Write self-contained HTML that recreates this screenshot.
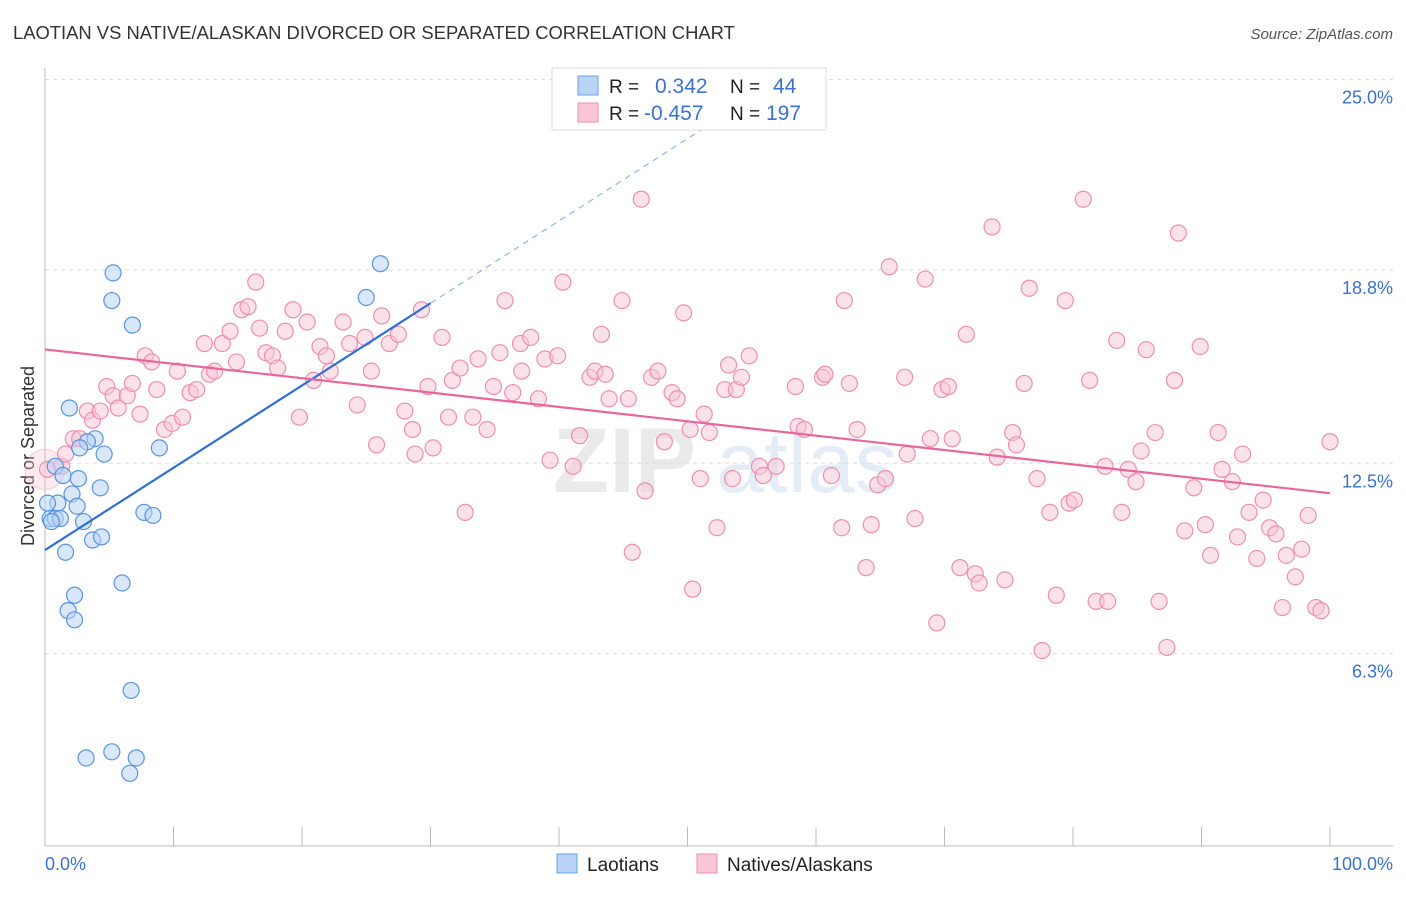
<!DOCTYPE html>
<html><head><meta charset="utf-8">
<style>
body{margin:0;background:#fff;font-family:"Liberation Sans",sans-serif;}
svg text{font-family:"Liberation Sans",sans-serif;}
</style></head>
<body>
<svg id="chart" width="1406" height="892" xmlns="http://www.w3.org/2000/svg">
<text x="13" y="39" font-size="18.4" fill="#333">LAOTIAN VS NATIVE/ALASKAN DIVORCED OR SEPARATED CORRELATION CHART</text>
<text x="1393" y="39" font-size="15" fill="#555" font-style="italic" text-anchor="end">Source: ZipAtlas.com</text>
<g opacity="0.3">
<text x="553" y="492" font-size="92" font-family="Liberation Serif" fill="#bbb" font-weight="bold">ZIP</text>
<text x="716" y="492" font-size="86" fill="#a9c4e6">atlas</text>
</g>
<g id="grid"></g>
<g id="axes"></g>
<g id="marks"></g>
<g id="trends"></g>
<g>
<rect x="552" y="68" width="274" height="62" fill="#fff" stroke="#ddd"/>
<rect x="578" y="76" width="20" height="19" fill="#b8d3f5" stroke="#6fa0e0"/>
<rect x="578" y="103" width="20" height="19" fill="#f8c6d5" stroke="#ec8fae"/>
<text x="609" y="93" font-size="19" fill="#222">R =</text>
<text x="655" y="93" font-size="21" fill="#3a72d0">0.342</text>
<text x="730" y="93" font-size="19" fill="#222">N =</text>
<text x="773" y="93" font-size="21" fill="#3a72d0">44</text>
<text x="609" y="120" font-size="19" fill="#222">R =</text>
<text x="644" y="120" font-size="21" fill="#3a72d0">-0.457</text>
<text x="730" y="120" font-size="19" fill="#222">N =</text>
<text x="766" y="120" font-size="21" fill="#3a72d0">197</text>
</g>
<g>
<rect x="557" y="854" width="20" height="19" fill="#b8d3f5" stroke="#6fa0e0"/>
<text x="587" y="871" font-size="19" fill="#222">Laotians</text>
<rect x="697" y="854" width="20" height="19" fill="#f8c6d5" stroke="#ec8fae"/>
<text x="727" y="871" font-size="19" fill="#222">Natives/Alaskans</text>
</g>
</svg>
<script>
const blueX=[5.3,5.2,6.8,26.1,25.0,1.9,3.9,3.3,2.7,4.6,8.9,0.8,1.4,2.6,4.3,2.1,1.0,2.5,0.2,0.4,0.8,1.2,0.5,3.0,7.7,8.4,3.7,4.4,1.6,6.0,2.3,1.8,2.3,6.7,5.2,7.1,3.2,6.6];
const blueY=[18.7,17.8,17.0,19.0,17.9,14.3,13.3,13.2,13.0,12.8,13.0,12.4,12.1,12.0,11.7,11.5,11.2,11.1,11.2,10.7,10.7,10.7,10.6,10.6,10.9,10.8,10.0,10.1,9.6,8.6,8.2,7.7,7.4,5.1,3.1,2.9,2.9,2.4];
const pinkX=[0.2,1.3,1.6,2.2,2.7,3.3,3.7,4.3,4.8,5.3,5.7,6.4,6.8,7.4,7.8,8.3,8.7,9.3,9.9,10.3,10.7,11.3,11.8,12.4,12.8,13.2,13.8,14.4,14.9,15.3,15.8,16.4,16.7,17.2,17.7,18.1,18.7,19.3,19.8,20.4,20.9,21.4,21.9,22.2,23.2,23.7,24.3,24.9,25.4,25.8,26.2,26.8,27.5,28.0,28.6,28.8,29.3,29.8,30.2,30.9,31.4,31.7,32.3,32.7,33.3,33.7,34.4,34.9,35.4,35.8,36.4,37.0,37.1,37.8,38.4,38.9,39.3,39.9,40.3,41.1,41.6,42.4,42.8,43.3,43.6,43.9,44.9,45.4,45.7,46.4,46.7,47.2,47.7,48.2,48.8,49.2,49.7,50.2,50.4,51.0,51.3,51.7,52.3,52.9,53.2,53.5,53.8,54.2,54.8,55.6,55.9,56.9,58.4,58.6,59.1,60.5,60.7,61.2,62.0,62.2,62.6,63.2,63.9,64.3,64.8,65.4,65.7,66.9,67.1,67.7,68.5,68.9,69.4,69.8,70.3,70.6,71.2,71.7,72.4,72.7,73.7,74.1,74.7,75.3,75.6,76.2,76.6,77.2,77.6,78.2,78.7,79.4,79.7,80.1,80.8,81.3,81.8,82.5,82.7,83.4,83.8,84.3,84.9,85.3,85.7,86.4,86.7,87.3,87.9,88.2,88.7,89.4,89.9,90.3,90.7,91.3,91.6,92.4,92.8,93.2,93.7,94.3,94.8,95.3,95.8,96.3,96.6,97.3,97.8,98.3,98.9,99.3,100];
const pinkY=[12.3,12.4,12.8,13.3,13.3,14.2,13.9,14.2,15.0,14.7,14.3,14.7,15.1,14.1,16.0,15.8,14.9,13.6,13.8,15.5,14.0,14.8,14.9,16.4,15.4,15.5,16.4,16.8,15.8,17.5,17.6,18.4,16.9,16.1,16.0,15.6,16.8,17.5,14.0,17.1,15.2,16.3,16.0,15.5,17.1,16.4,14.4,16.6,15.5,13.1,17.3,16.4,16.7,14.2,13.6,12.8,17.5,15.0,13.0,16.6,14.0,15.2,15.6,10.9,14.0,15.9,13.6,15.0,16.1,17.8,14.8,16.4,15.5,16.6,14.6,15.9,12.6,16.0,18.4,12.4,13.4,15.3,15.5,16.7,15.4,14.6,17.8,14.6,9.6,21.1,11.6,15.3,15.5,13.2,14.8,14.6,17.4,13.6,8.4,12.0,14.1,13.5,10.4,14.9,15.7,12.0,14.9,15.3,16.0,12.4,12.1,12.4,15.0,13.7,13.6,15.3,15.4,12.1,10.4,17.8,15.1,13.6,9.1,10.5,11.8,12.0,18.9,15.3,12.8,10.7,18.5,13.3,7.3,14.9,15.0,13.3,9.1,16.7,8.9,8.6,20.2,12.7,8.7,13.5,13.1,15.1,18.2,12.0,6.4,10.9,8.2,17.8,11.2,11.3,21.1,15.2,8.0,12.4,8.0,16.5,10.9,12.3,11.9,12.9,16.2,13.5,8.0,6.5,15.2,20.0,10.3,11.7,16.3,10.5,9.5,13.5,12.3,11.9,10.1,12.8,10.9,9.4,11.3,10.4,10.2,7.8,9.5,8.8,9.7,10.8,7.8,7.7,13.2];
const yTicks=[25.0,18.8,12.5,6.3];
const yTickLabels=["25.0%","18.8%","12.5%","6.3%"];
const xTicks=[0,10,20,30,40,50,60,70,80,90,100];

const NS="http://www.w3.org/2000/svg";
const X0=45,X1=1330,Y0=847,Y1=79.5;
const sx=v=>X0+(X1-X0)*v/100;
const sy=v=>Y0-(Y0-Y1)*v/25;
function mk(tag,attrs,parent){const e=document.createElementNS(NS,tag);for(const k in attrs)e.setAttribute(k,attrs[k]);parent.appendChild(e);return e;}
const grid=document.getElementById('grid'),axes=document.getElementById('axes'),marks=document.getElementById('marks'),trends=document.getElementById('trends');
yTicks.forEach((t,i)=>{
  const l=mk('line',{x1:45,x2:1393,y1:sy(t),y2:sy(t),stroke:'#ddd','stroke-dasharray':'4,4'},grid);
  
  
  const tx=mk('text',{x:1393,y:sy(t)+24,'font-size':18,fill:'#3a72d0','text-anchor':'end'},axes);
  tx.textContent=yTickLabels[i];
  
  
});
let a=mk('line',{x1:45,x2:45,y1:68,y2:846,stroke:'#bbb'},axes);


a=mk('line',{x1:45,x2:1393,y1:846,y2:846,stroke:'#bbb'},axes);


xTicks.forEach(t=>{
  const l=mk('line',{x1:sx(t),x2:sx(t),y1:827,y2:846,stroke:'#bbb'},axes);
  
  
});
let t=mk('text',{x:45,y:870,'font-size':18,fill:'#3a72d0'},axes);t.textContent='0.0%';


t=mk('text',{x:1393,y:870,'font-size':18,fill:'#3a72d0','text-anchor':'end'},axes);t.textContent='100.0%';


t=mk('text',{x:0,y:0,'font-size':18,fill:'#333','text-anchor':'middle',transform:'translate(34,456) rotate(-90)'},axes);t.textContent='Divorced or Separated';



let big=mk('circle',{cx:sx(0),cy:sy(12.3),r:20,fill:'#f8c6d5','fill-opacity':0.35,stroke:'#ec8fae','stroke-opacity':0.4},marks);


pinkX.forEach((x,i)=>{
  const c=mk('circle',{cx:sx(x),cy:sy(pinkY[i]),r:8,fill:'#f8c6d5','fill-opacity':0.5,stroke:'#ec8fae','stroke-width':1.2},marks);
  
  
});
blueX.forEach((x,i)=>{
  const c=mk('circle',{cx:sx(x),cy:sy(blueY[i]),r:8,fill:'#b8d3f5','fill-opacity':0.55,stroke:'#5b93dc','stroke-width':1.2},marks);
  
  
});
function reg(xs,ys){const n=xs.length;let mx=0,my=0;xs.forEach((x,i)=>{mx+=x;my+=ys[i];});mx/=n;my/=n;let sxy=0,sxx=0;xs.forEach((x,i)=>{sxy+=(x-mx)*(ys[i]-my);sxx+=(x-mx)*(x-mx);});const b=sxy/sxx;return [my-b*mx,b];}
const [ba,bb]=reg(blueX,blueY);
const [pa,pb]=reg(pinkX,pinkY);
let tl=mk('line',{x1:sx(0),y1:sy(ba),x2:sx(30),y2:sy(ba+bb*30),stroke:'#2f6fd6','stroke-width':2.2},trends);


tl=mk('line',{x1:sx(30),y1:sy(ba+bb*30),x2:sx(54),y2:sy(ba+bb*54),stroke:'#8fb4e8','stroke-width':1.2,'stroke-dasharray':'6,5'},trends);


tl=mk('line',{x1:sx(0),y1:sy(pa),x2:sx(100),y2:sy(pa+pb*100),stroke:'#e8679a','stroke-width':2.2},trends);


</script>
</body></html>
